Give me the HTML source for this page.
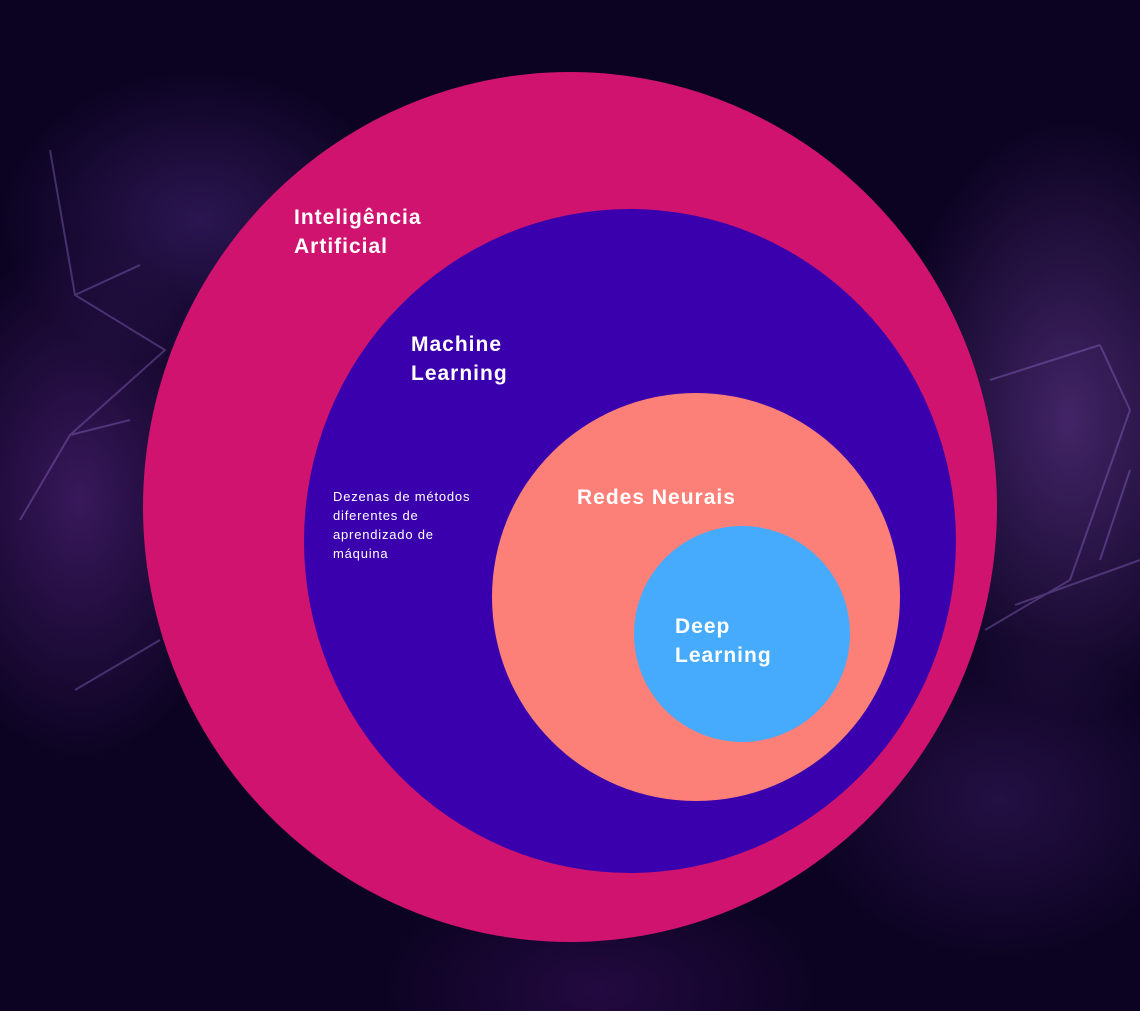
<!DOCTYPE html>
<html><head><meta charset="utf-8"><style>
html,body{margin:0;padding:0}
body{width:1140px;height:1011px;overflow:hidden;position:relative;
background:
radial-gradient(ellipse 160px 260px at 80px 500px,rgba(110,50,160,0.45),transparent),
radial-gradient(ellipse 180px 300px at 1070px 420px,rgba(120,70,170,0.5),transparent),
radial-gradient(ellipse 200px 150px at 200px 220px,rgba(90,50,150,0.4),transparent),
radial-gradient(ellipse 200px 160px at 1000px 800px,rgba(80,40,130,0.35),transparent),
radial-gradient(ellipse 220px 120px at 600px 990px,rgba(70,20,110,0.4),transparent),
#0c0322;font-family:"Liberation Sans",sans-serif}
svg{position:absolute;left:0;top:0}
.t{position:absolute;color:#fff;font-weight:bold;font-size:21px;line-height:29px;letter-spacing:1px}
.s{position:absolute;color:#fff;font-size:13px;line-height:19px;letter-spacing:0.8px}
</style></head><body>
<svg width="1140" height="1011">
<g stroke="rgba(160,120,220,0.35)" stroke-width="2" fill="none">
<path d="M50 150 L75 295 L165 350 L70 435 L20 520 M75 295 L140 265 M70 435 L130 420 M75 690 L160 640"/>
<path d="M1100 345 L1130 410 L1070 580 L985 630 M1100 345 L990 380 M1130 470 L1100 560 M1015 605 L1140 560"/>
</g>
<ellipse cx="570" cy="507" rx="427" ry="435" fill="#d0136e"/>
<ellipse cx="630" cy="541" rx="326" ry="332" fill="#3b00ad"/>
<circle cx="696" cy="597" r="204" fill="#fd8078"/>
<circle cx="742" cy="634" r="108" fill="#46abfd"/>
</svg>
<div class="t" style="left:294px;top:203px">Inteligência<br>Artificial</div>
<div class="t" style="left:411px;top:330px">Machine<br>Learning</div>
<div class="t" style="left:577px;top:483px">Redes Neurais</div>
<div class="t" style="left:675px;top:612px">Deep<br>Learning</div>
<div class="s" style="left:333px;top:487px">Dezenas de métodos<br>diferentes de<br>aprendizado de<br>máquina</div>
</body></html>
